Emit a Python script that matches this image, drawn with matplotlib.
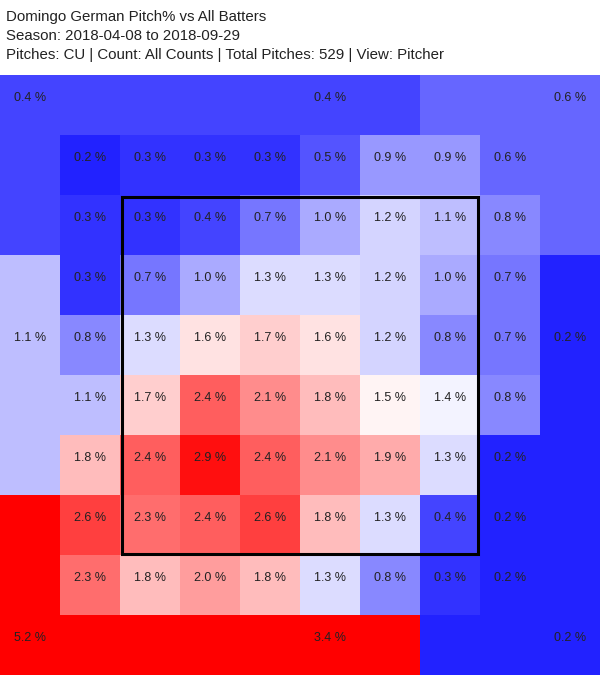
import numpy as np
import matplotlib
matplotlib.use("Agg")
import matplotlib.pyplot as plt
from matplotlib.colors import LinearSegmentedColormap, Normalize
from matplotlib.patches import Rectangle

plt.rcParams['font.family'] = ['Liberation Sans', 'DejaVu Sans']

# Titre
title_lines = [
    "Domingo German Pitch% vs All Batters",
    "Season: 2018-04-08 to 2018-09-29",
    "Pitches: CU | Count: All Counts | Total Pitches: 529 | View: Pitcher",
]

# Zones internes (8x8), de haut en bas, de gauche a droite
inner_pct = np.array([
    [0.2, 0.3, 0.3, 0.3, 0.5, 0.9, 0.9, 0.6],
    [0.3, 0.3, 0.4, 0.7, 1.0, 1.2, 1.1, 0.8],
    [0.3, 0.7, 1.0, 1.3, 1.3, 1.2, 1.0, 0.7],
    [0.8, 1.3, 1.6, 1.7, 1.6, 1.2, 0.8, 0.7],
    [1.1, 1.7, 2.4, 2.1, 1.8, 1.5, 1.4, 0.8],
    [1.8, 2.4, 2.9, 2.4, 2.1, 1.9, 1.3, 0.2],
    [2.6, 2.3, 2.4, 2.6, 1.8, 1.3, 0.4, 0.2],
    [2.3, 1.8, 2.0, 1.8, 1.3, 0.8, 0.3, 0.2],
])

# Zones externes
outer_names = ["TL", "TM", "TR", "ML", "MR", "BL", "BM", "BR"]
outer_pct = [0.4, 0.4, 0.6, 1.1, 0.2, 5.2, 3.4, 0.2]

# cellules (ligne, colonne) de la grille 10x10 couvertes par chaque zone externe
outer_cells = {
    "TL": [(0, c) for c in range(5)] + [(r, 0) for r in (1, 2)],
    "TM": [(0, 5), (0, 6)],
    "TR": [(0, c) for c in (7, 8, 9)] + [(r, 9) for r in (1, 2)],
    "ML": [(r, 0) for r in range(3, 7)],
    "MR": [(r, 9) for r in range(3, 7)],
    "BL": [(r, 0) for r in (7, 8)] + [(9, c) for c in range(5)],
    "BM": [(9, 5), (9, 6)],
    "BR": [(r, 9) for r in (7, 8)] + [(9, c) for c in (7, 8, 9)],
}
# cellule ou le texte est ecrit
outer_label_cell = {
    "TL": (0, 0), "TM": (0, 5), "TR": (0, 9),
    "ML": (4, 0), "MR": (4, 9),
    "BL": (9, 0), "BM": (9, 5), "BR": (9, 9),
}

grid = np.zeros((10, 10))
grid[1:9, 1:9] = inner_pct
for name, val in zip(outer_names, outer_pct):
    for (r, c) in outer_cells[name]:
        grid[r, c] = val

# bleu - blanc - rouge
vmax = 3.0
cmap = LinearSegmentedColormap.from_list("bwr_zone", [
    (0.0, "#0000ff"),
    (1.0 / vmax, "#aaaaff"),
    (1.2 / vmax, "#d4d4ff"),
    (1.3 / vmax, "#dcdcff"),
    (1.45 / vmax, "#ffffff"),
    (1.8 / vmax, "#ffbcbc"),
    (1.0, "#ff0000"),
])
norm = Normalize(vmin=0, vmax=vmax, clip=True)

fig = plt.figure(figsize=(6, 6.75), dpi=100)
ax = fig.add_axes([0, 0, 1, 600 / 675])
ax.pcolormesh(np.arange(11), np.arange(11), grid, cmap=cmap, norm=norm,
              shading="flat", edgecolors="none")
ax.set_xlim(0, 10)
ax.set_ylim(10, 0)
ax.axis("off")

txt_kw = dict(ha="center", va="center", fontsize=9, color="#222222")
for r in range(8):
    for c in range(8):
        ax.text(c + 1.5, r + 1.38, f"{inner_pct[r, c]:.1f} %", **txt_kw)
for name, val in zip(outer_names, outer_pct):
    r, c = outer_label_cell[name]
    ax.text(c + 0.5, r + 0.38, f"{val:.1f} %", **txt_kw)

# zone de strike
ax.add_patch(Rectangle((2.025, 2.025), 5.95, 5.95, fill=False,
                       edgecolor="black", linewidth=2.2))

baselines = [20.7, 39.8, 59.5]
for line, yb in zip(title_lines, baselines):
    fig.text(6 / 600, 1 - yb / 675, line, ha="left", va="baseline",
             fontsize=10.8, color="#222222")

fig.savefig("out.png", dpi=100)
